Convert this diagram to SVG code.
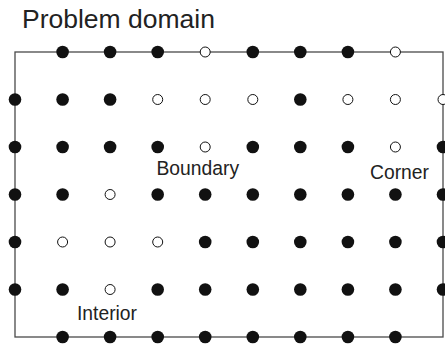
<svg xmlns="http://www.w3.org/2000/svg" xmlns:xlink="http://www.w3.org/1999/xlink" width="445" height="344" viewBox="0 0 445 344">
  <style>
    .frame { fill: none; stroke: #4a4a4a; stroke-width: 1.3; }
    .on { fill: #111; }
    .off { fill: #fff; stroke: #111; stroke-width: 1; }
    .lbl { font-family: "Liberation Sans", Arial, sans-serif; fill: #222; }
    .title { font-size: 26.5px; }
    .tag { font-size: 19.3px; }
  </style>
  <defs>
    <circle id="dotOn" class="on" r="6.3"/>
    <circle id="dotOff" class="off" r="5"/>
  </defs>

  <text class="lbl title" x="22" y="28">Problem domain</text>

  <!-- domain outline -->
  <g id="connectors">
    <rect class="frame" x="15" y="52" width="428" height="285"/>
  </g>

  <!-- grid points, columns every 47.56px from x=15, rows every 47.5px from y=52 -->
  <g id="row0" transform="translate(0,52)">
    <use xlink:href="#dotOn" x="62.6"/>
    <use xlink:href="#dotOn" x="110.1"/>
    <use xlink:href="#dotOn" x="157.7"/>
    <use xlink:href="#dotOff" x="205.2"/>
    <use xlink:href="#dotOn" x="252.8"/>
    <use xlink:href="#dotOn" x="300.3"/>
    <use xlink:href="#dotOn" x="347.9"/>
    <use xlink:href="#dotOff" x="395.4"/>
  </g>
  <g id="row1" transform="translate(0,99.5)">
    <use xlink:href="#dotOn" x="15"/>
    <use xlink:href="#dotOn" x="62.6"/>
    <use xlink:href="#dotOn" x="110.1"/>
    <use xlink:href="#dotOff" x="157.7"/>
    <use xlink:href="#dotOff" x="205.2"/>
    <use xlink:href="#dotOff" x="252.8"/>
    <use xlink:href="#dotOn" x="300.3"/>
    <use xlink:href="#dotOff" x="347.9"/>
    <use xlink:href="#dotOff" x="395.4"/>
    <use xlink:href="#dotOff" x="443"/>
  </g>
  <g id="row2" transform="translate(0,147)">
    <use xlink:href="#dotOn" x="15"/>
    <use xlink:href="#dotOn" x="62.6"/>
    <use xlink:href="#dotOn" x="110.1"/>
    <use xlink:href="#dotOn" x="157.7"/>
    <use xlink:href="#dotOff" x="205.2"/>
    <use xlink:href="#dotOn" x="252.8"/>
    <use xlink:href="#dotOn" x="300.3"/>
    <use xlink:href="#dotOn" x="347.9"/>
    <use xlink:href="#dotOff" x="395.4"/>
    <use xlink:href="#dotOn" x="443"/>
  </g>
  <g id="row3" transform="translate(0,194.5)">
    <use xlink:href="#dotOn" x="15"/>
    <use xlink:href="#dotOn" x="62.6"/>
    <use xlink:href="#dotOff" x="110.1"/>
    <use xlink:href="#dotOn" x="157.7"/>
    <use xlink:href="#dotOn" x="205.2"/>
    <use xlink:href="#dotOn" x="252.8"/>
    <use xlink:href="#dotOn" x="300.3"/>
    <use xlink:href="#dotOn" x="347.9"/>
    <use xlink:href="#dotOn" x="395.4"/>
    <use xlink:href="#dotOn" x="443"/>
  </g>
  <g id="row4" transform="translate(0,242)">
    <use xlink:href="#dotOn" x="15"/>
    <use xlink:href="#dotOff" x="62.6"/>
    <use xlink:href="#dotOff" x="110.1"/>
    <use xlink:href="#dotOff" x="157.7"/>
    <use xlink:href="#dotOn" x="205.2"/>
    <use xlink:href="#dotOn" x="252.8"/>
    <use xlink:href="#dotOn" x="300.3"/>
    <use xlink:href="#dotOn" x="347.9"/>
    <use xlink:href="#dotOn" x="395.4"/>
    <use xlink:href="#dotOn" x="443"/>
  </g>
  <g id="row5" transform="translate(0,289.5)">
    <use xlink:href="#dotOn" x="15"/>
    <use xlink:href="#dotOn" x="62.6"/>
    <use xlink:href="#dotOff" x="110.1"/>
    <use xlink:href="#dotOn" x="157.7"/>
    <use xlink:href="#dotOn" x="205.2"/>
    <use xlink:href="#dotOn" x="252.8"/>
    <use xlink:href="#dotOn" x="300.3"/>
    <use xlink:href="#dotOn" x="347.9"/>
    <use xlink:href="#dotOn" x="395.4"/>
    <use xlink:href="#dotOn" x="443"/>
  </g>
  <g id="row6" transform="translate(0,337)">
    <use xlink:href="#dotOn" x="62.6"/>
    <use xlink:href="#dotOn" x="110.1"/>
    <use xlink:href="#dotOn" x="157.7"/>
    <use xlink:href="#dotOn" x="205.2"/>
    <use xlink:href="#dotOn" x="252.8"/>
    <use xlink:href="#dotOn" x="300.3"/>
    <use xlink:href="#dotOn" x="347.9"/>
    <use xlink:href="#dotOn" x="395.4"/>
  </g>

  <!-- point-type labels -->
  <g id="labels">
    <text class="lbl tag" x="156.5" y="175">Boundary</text>
    <text class="lbl tag" x="370" y="178.5">Corner</text>
    <text class="lbl tag" x="77" y="320">Interior</text>
  </g>
</svg>
